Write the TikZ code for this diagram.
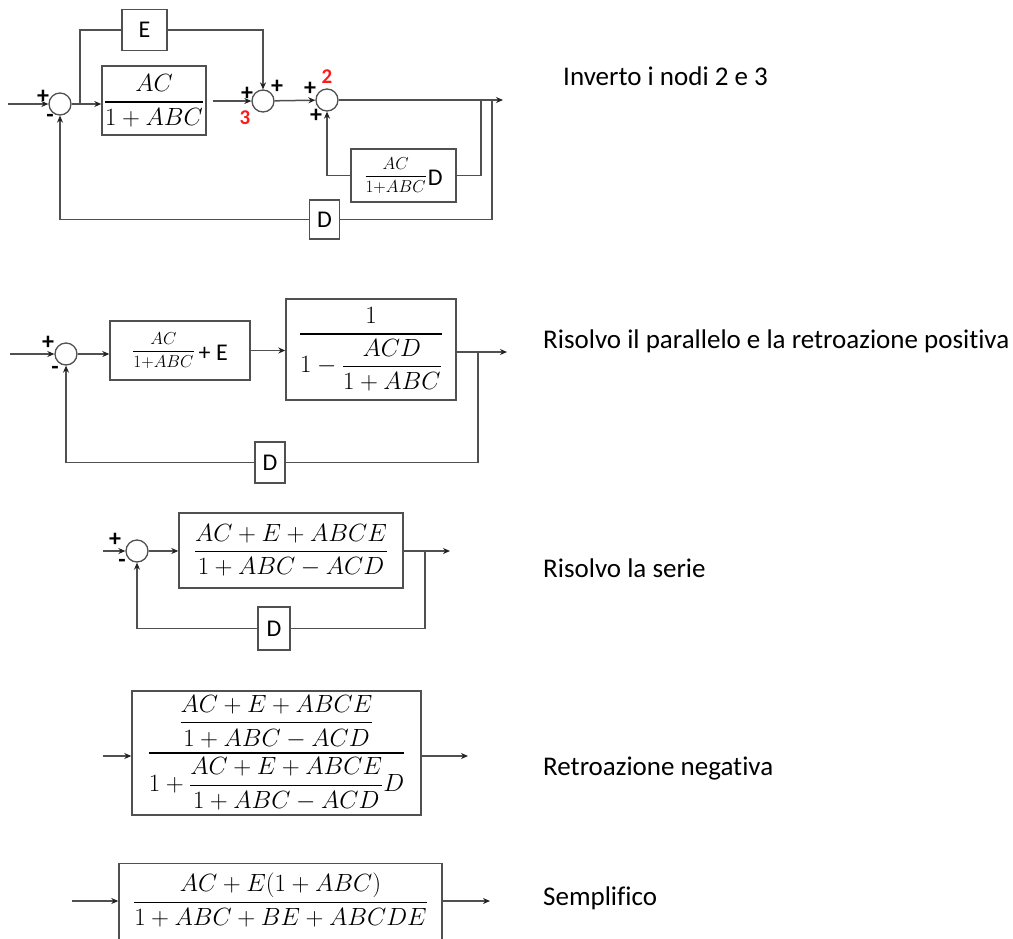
\documentclass[tikz,border=0pt]{standalone}
\usepackage{amsmath}
\usepackage[no-math]{fontspec}
\setmainfont[Ligatures=NoCommon]{Carlito}
\usetikzlibrary{arrows.meta}
\definecolor{linec}{HTML}{505050}
\definecolor{tipc}{HTML}{222222}
\definecolor{numred}{HTML}{FF1A1A}

% helpers for the block contents
\newcommand{\bigmath}{\fontsize{24}{28}\selectfont}
\newcommand{\tf}[2]{\genfrac{}{}{1.4pt}{0}{#1}{#2}}
\newcommand{\smallfrac}[2]{{\fontsize{17}{20}\selectfont$\genfrac{}{}{1.1pt}{0}{#1}{#2}$}}
\newcommand{\sidetext}[1]{$\vcenter{\hbox{\fontsize{24}{24}\selectfont #1}}$}

\tikzset{
  wire/.style={draw=linec, line width=1.5pt},
  arr/.style={wire, -{Stealth[length=7pt,width=6pt,color=tipc]}},
  blk/.style={draw=linec, line width=1.4pt, rectangle, inner sep=0pt},
  sumnode/.style={circle, draw=linec, line width=1.3pt, minimum size=22pt, inner sep=0pt},
  sgn/.style={font=\fontsize{24}{24}\selectfont\bfseries, inner sep=0pt, text=black},
  nodenum/.style={font=\fontsize{21}{21}\selectfont\bfseries, inner sep=0pt, text=numred},
  caption/.style={anchor=base west, inner sep=0pt, font=\fontsize{27}{31}\selectfont}
}

\begin{document}
\begin{tikzpicture}[x=1pt, y=-1pt]
\clip (0,0) rectangle (1013,938);
\fill[white] (0,0) rectangle (1013,938);

% ---------------- step 1: original diagram ----------------
\coordinate (in1) at (8,104);
\node[sumnode] (s1) at (60,104) {};
\node[blk, minimum width=104pt, minimum height=69pt] (b1) at (154,100.5)
  {\bigmath$\tf{AC}{1+ABC}$};
\node[blk, minimum width=45pt, minimum height=41pt, font=\fontsize{24}{24}\selectfont] (E1) at (144.5,30) {E};
\node[sumnode] (s3) at (263,101) {};
\node[sumnode] (s2) at (327,100) {};
\node[blk, minimum width=105pt, minimum height=53pt] (fb1) at (403.5,175.5)
  {\smallfrac{AC}{1{+}ABC}\sidetext{\kern1pt D}};
\node[blk, minimum width=30pt, minimum height=39pt, font=\fontsize{24}{24}\selectfont] (D1) at (324.5,219.5) {D};
\coordinate (j1) at (80,104);
\coordinate (j2) at (481,100);
\coordinate (j3) at (492,100);
\coordinate (out1) at (503,100);

\draw[arr] (in1) -- (s1);
\draw[arr] (s1) -- (s1 -| b1.west);
\draw[wire] (j1) |- (E1.west);
\draw[arr] (E1.east) -| (s3);
\draw[arr, shorten <=6pt] (b1.east |- s3) -- (s3);
\draw[arr] (s3) -- (s2);
\draw[arr] (s2) -- (out1);
\draw[wire] (j2) |- (fb1.east);
\draw[arr] (fb1.west) -| (s2);
\draw[wire] (j3) |- (D1.east);
\draw[arr] (D1.west) -| (s1);

\node[sgn] (p11) at (43,97) {+};
\node[sgn] (m11) at (50,118) {-};
\node[sgn] (p31) at (247,94) {+};
\node[sgn] (p32) at (277,87) {+};
\node[nodenum] (n3) at (245,118) {3};
\node[sgn] (p21) at (310,89) {+};
\node[sgn] (p22) at (316,116) {+};
\node[nodenum] (n2) at (327,77) {2};

\node[caption] (c1) at (563,85) {Inverto i nodi 2 e 3};

% ---------------- step 2 ----------------
\coordinate (in2) at (10,354);
\node[sumnode] (s4) at (66,354) {};
\node[blk, minimum width=140pt, minimum height=59pt] (b2) at (180,350.5)
  {\smallfrac{AC}{1{+}ABC}\sidetext{\,+ E}};
\node[blk, minimum width=170pt, minimum height=101pt] (b3) at (371,349.5)
  {\bigmath$\tf{1}{1-\tf{ACD}{1+ABC}}$};
\node[blk, minimum width=30pt, minimum height=41pt, font=\fontsize{24}{24}\selectfont] (D2) at (270,462.5) {D};
\coordinate (j4) at (478,352);
\coordinate (out2) at (507,352);

\draw[arr] (in2) -- (s4);
\draw[arr] (s4) -- (s4 -| b2.west);
\draw[arr] (b2.east) -- (b2.east -| b3.west);
\draw[arr] (b3.east |- out2) -- (out2);
\draw[wire] (j4) |- (D2.east);
\draw[arr] (D2.west) -| (s4);

\node[sgn] (p41) at (48,343) {+};
\node[sgn] (m41) at (55,370) {-};

\node[caption] (c2) at (543,348) {Risolvo il parallelo e la retroazione positiva};

% ---------------- step 3 ----------------
\coordinate (in3) at (103,551);
\node[sumnode] (s5) at (137,551) {};
\node[blk, minimum width=224pt, minimum height=75pt] (b4) at (291,550.5)
  {\bigmath$\tf{AC+E+ABCE}{1+ABC-ACD}$};
\node[blk, minimum width=32pt, minimum height=43pt, font=\fontsize{24}{24}\selectfont] (D3) at (274,628.5) {D};
\coordinate (j5) at (425,551);
\coordinate (out3) at (450,551);

\draw[arr] (in3) -- (s5);
\draw[arr] (s5) -- (s5 -| b4.west);
\draw[arr] (b4.east |- out3) -- (out3);
\draw[wire] (j5) |- (D3.east);
\draw[arr] (D3.west) -| (s5);

\node[sgn] (p51) at (115,540) {+};
\node[sgn] (m51) at (122,563) {-};

\node[caption] (c3) at (543,577) {Risolvo la serie};

% ---------------- step 4 ----------------
\coordinate (in4) at (103,756);
\node[blk, minimum width=289pt, minimum height=124pt] (b5) at (276.5,753)
  {\bigmath$\tf{\tf{AC+E+ABCE}{1+ABC-ACD}}{1+\tf{AC+E+ABCE}{1+ABC-ACD}D}$};
\coordinate (out4) at (468,756);

\draw[arr] (in4) -- (in4 -| b5.west);
\draw[arr] (b5.east |- out4) -- (out4);

\node[caption] (c4) at (543,775) {Retroazione negativa};

% ---------------- step 5 ----------------
\coordinate (in5) at (72,901);
\node[blk, minimum width=323pt, minimum height=82pt, anchor=north] (b6) at (280.5,863) {};
\node[inner sep=0pt] (f6) at (280.5,900)
  {\bigmath$\tf{AC+E(1+ABC)}{1+ABC+BE+ABCDE}$};
\coordinate (out5) at (490,901);

\draw[arr] (in5) -- (in5 -| b6.west);
\draw[arr] (b6.east |- out5) -- (out5);

\node[caption] (c5) at (543,905) {Semplifico};
\end{tikzpicture}
\end{document}
